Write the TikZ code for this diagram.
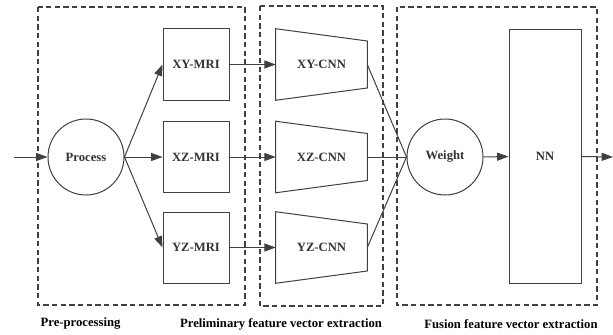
\documentclass[tikz,border=0pt]{standalone}
\usepackage{fontspec}
\setmainfont{Liberation Serif}
\usetikzlibrary{arrows.meta,calc}
\begin{document}
\begin{tikzpicture}[x=0.75pt,y=-0.75pt,
  every node/.style={font=\fontsize{9.5}{11}\selectfont\bfseries, text=black!80},
  line/.style={line width=0.75pt, draw=black!75},
  arr/.style={line, -{Triangle[length=8.5pt,width=6pt]}},
  group/.style={line width=0.8pt, draw=black!75, dash pattern=on 4pt off 2.5pt},
  slice/.style={line, minimum width=49.5pt, minimum height=53.25pt, inner sep=0pt},
  blob/.style={line, circle, minimum size=57pt, inner sep=0pt},
  cnnbox/.style={minimum width=68.25pt, minimum height=53.25pt, inner sep=0pt},
  caption/.style={font=\fontsize{9.5}{11}\selectfont\bfseries, text=black}]
\useasboundingbox (0,0) rectangle (613,335);

% stage frames
\draw[group] (38,7) rectangle (245,305);
\draw[group] (260,6) rectangle (383,306);
\draw[group] (397,7) rectangle (597,305);

% pre-processing
\coordinate (in) at (14,157);
\node[blob] (proc) at (86,157) {Process};
\node[slice] (xymri) at (196,64.5) {XY-MRI};
\node[slice] (xzmri) at (196,157) {XZ-MRI};
\node[slice] (yzmri) at (196,247.5) {YZ-MRI};

% CNN branches (trapezoids drawn around text nodes)
\node[cnnbox] (xycnn) at (321.5,64.5) {XY-CNN};
\node[cnnbox] (xzcnn) at (321.5,157) {XZ-CNN};
\node[cnnbox] (yzcnn) at (321.5,247.5) {YZ-CNN};
\foreach \n in {xycnn,xzcnn,yzcnn}{
  \draw[line] (\n.north west) -- ($(\n.east)+(0,-23.5)$) -- ($(\n.east)+(0,23.5)$)
    -- (\n.south west) -- cycle;
}

% fusion
\node[blob] (weight) at (445,157) {Weight};
\node[line, minimum width=54pt, minimum height=189.75pt, inner sep=0pt] (nn) at (545,156.5) {NN};
\coordinate (out) at (613,157);

% connectors
\draw[arr] (in) -- (proc.west);
\draw[arr] (proc.east) -- (xymri.west);
\draw[arr] (proc.east) -- (xzmri.west);
\draw[arr] (proc.east) -- (yzmri.west);
\draw[arr] (xymri.east) -- (xycnn.west);
\draw[arr] (xzmri.east) -- (xzcnn.west);
\draw[arr] (yzmri.east) -- (yzcnn.west);
\draw[line] (xycnn.east) -- (weight.west);
\draw[line] (xzcnn.east) -- (weight.west);
\draw[line] (yzcnn.east) -- (weight.west);
\draw[arr] (weight.east) -- (nn.west);
\draw[arr] (nn.east) -- (out);

% stage captions
\node[caption, anchor=west] (cap1) at (36,323) {Pre-processing};
\node[caption] (cap2) at (281,324) {Preliminary feature vector extraction};
\node[caption] (cap3) at (511,324) {Fusion feature vector extraction};
\end{tikzpicture}
\end{document}
